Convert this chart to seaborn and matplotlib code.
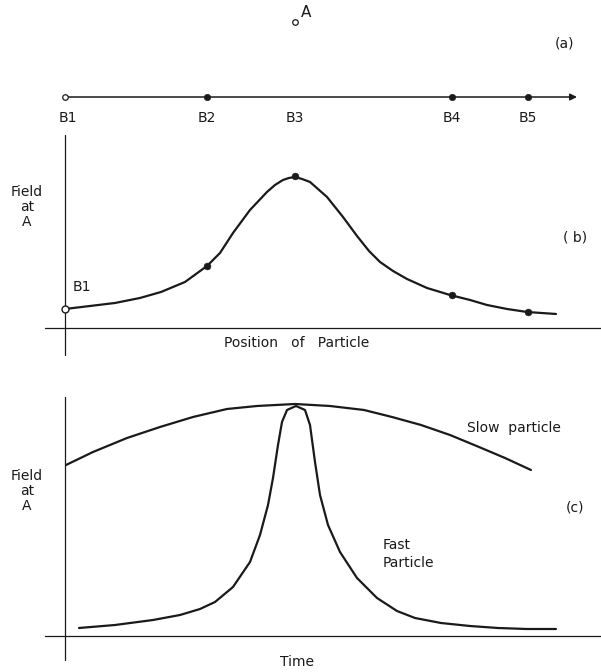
import matplotlib
matplotlib.use("Agg")
import matplotlib.pyplot as plt
import seaborn as sns
import pandas as pd

# ---------------- data ----------------
b_labels = ["B1", "B2", "B3", "B4", "B5"]
b_positions = [0.0, 1.42, 2.30, 3.87, 4.63]
b_field = [0.19, 0.62, 1.52, 0.33, 0.16]
point_a = [2.30, 0.75]          # position of point A above the line
axis_end = 5.12                  # arrow tip of the particle path

pos_x = [0, .25, .50, .75, .96, 1.20, 1.42, 1.55, 1.68, 1.85, 2.02, 2.10, 2.18,
         2.24, 2.30, 2.37, 2.45, 2.62, 2.78, 2.92, 3.04, 3.15, 3.28, 3.42, 3.62,
         3.85, 4.05, 4.22, 4.42, 4.62, 4.91]
pos_field = [.19, .22, .25, .30, .36, .46, .62, .75, .95, 1.18, 1.36, 1.43, 1.48,
             1.50, 1.51, 1.49, 1.46, 1.31, 1.11, .92, .77, .66, .57, .49, .40,
             .33, .28, .23, .19, .16, .14]

slow_t = [0.01, .28, .62, .95, 1.28, 1.62, 1.92, 2.30, 2.65, 2.99, 3.27, 3.56,
          3.85, 4.14, 4.40, 4.66]
slow_field = [1.71, 1.84, 1.98, 2.09, 2.19, 2.27, 2.30, 2.32, 2.30, 2.26, 2.19,
              2.11, 2.01, 1.89, 1.78, 1.66]

fast_t = [.14, .50, .88, 1.15, 1.35, 1.50, 1.68, 1.85, 1.95, 2.03, 2.08, 2.13,
          2.17, 2.22, 2.31, 2.40, 2.45, 2.50, 2.55, 2.63, 2.75, 2.92, 3.12, 3.32,
          3.50, 3.76, 4.05, 4.33, 4.62, 4.91]
fast_field = [.08, .11, .16, .21, .27, .34, .49, .74, 1.01, 1.31, 1.58, 1.91,
              2.14, 2.26, 2.30, 2.26, 2.11, 1.74, 1.41, 1.11, .84, .58, .38, .25,
              .18, .13, .10, .08, .07, .07]

# ---------------- style ----------------
sns.set_theme(style="white")
plt.rcParams["font.family"] = ["DejaVu Sans"]
plt.rcParams["lines.solid_joinstyle"] = "round"
ink = "#1a1a1a"
fs = 10

fig = plt.figure(figsize=(6.01, 6.72), dpi=100)
XL = (-0.65, 5.36)

# ---------------- panel (a) ----------------
ax_a = fig.add_axes([0, 0.7991, 1, 0.2009])
ax_a.set_xlim(*XL); ax_a.set_ylim(-0.38, 0.97); ax_a.axis("off")
ax_a.annotate("", xy=(axis_end, 0), xytext=(b_positions[0], 0),
              arrowprops=dict(arrowstyle="-|>", lw=1.1, color=ink,
                              mutation_scale=10, shrinkA=0, shrinkB=0))
df_a = pd.DataFrame({"x": [b_positions[i] for i in (1, 3, 4)], "y": [0, 0, 0]})
sns.scatterplot(data=df_a, x="x", y="y", ax=ax_a, color=ink, s=22,
                edgecolor=ink, zorder=3, legend=False)
ax_a.plot([b_positions[0]], [0], "o", ms=4, mfc="white", mec=ink, mew=0.9, zorder=4)
ax_a.plot([point_a[0]], [point_a[1]], "o", ms=4, mfc="white", mec=ink, mew=0.9)
ax_a.text(point_a[0] + 0.06, point_a[1] + 0.02, "A", fontsize=11, color=ink,
          ha="left", va="bottom")
for lab, xv in zip(b_labels, b_positions):
    ax_a.text(xv + (0.03 if lab == "B1" else 0), -0.21, lab, fontsize=fs,
              color=ink, ha="center", va="center")
ax_a.text(5.0, 0.54, "(a)", fontsize=fs, color=ink, ha="center", va="center")

# ---------------- panel (b) ----------------
ax_b = fig.add_axes([0, 0.4643, 1, 0.3423])
ax_b.set_xlim(*XL); ax_b.set_ylim(-0.32, 1.98); ax_b.axis("off")
ax_b.axhline(0, xmin=0.075, xmax=1, color=ink, lw=0.9)
ax_b.axvline(0, ymin=0.022, ymax=0.978, color=ink, lw=0.9)
df_b = pd.DataFrame({"x": pos_x, "y": pos_field})
sns.lineplot(data=df_b, x="x", y="y", ax=ax_b, color=ink, lw=1.6, sort=False)
df_bd = pd.DataFrame({"x": b_positions[1:], "y": b_field[1:]})
sns.scatterplot(data=df_bd, x="x", y="y", ax=ax_b, color=ink, s=24,
                edgecolor=ink, zorder=3, legend=False)
ax_b.plot([b_positions[0]], [b_field[0]], "o", ms=5, mfc="white", mec=ink,
          mew=1.0, zorder=4)
ax_b.text(0.08, 0.41, "B1", fontsize=fs, color=ink, ha="left", va="center")
ax_b.text(-0.38, 1.21, "Field\nat\nA", fontsize=fs, color=ink, ha="center",
          va="center", linespacing=1.1)
ax_b.text(5.10, 0.90, "( b)", fontsize=fs, color=ink, ha="center", va="center")
ax_b.text(2.32, -0.15, "Position   of   Particle", fontsize=fs, color=ink,
          ha="center", va="center")
ax_b.set_xlabel(""); ax_b.set_ylabel("")

# ---------------- panel (c) ----------------
ax_c = fig.add_axes([0, 0, 1, 0.4271])
ax_c.set_xlim(*XL); ax_c.set_ylim(-0.36, 2.51); ax_c.axis("off")
ax_c.axhline(0, xmin=0.075, xmax=1, color=ink, lw=0.9)
ax_c.axvline(0, ymin=0.042, ymax=0.958, color=ink, lw=0.9)
df_slow = pd.DataFrame({"t": slow_t, "f": slow_field})
df_fast = pd.DataFrame({"t": fast_t, "f": fast_field})
sns.lineplot(data=df_slow, x="t", y="f", ax=ax_c, color=ink, lw=1.6, sort=False)
sns.lineplot(data=df_fast, x="t", y="f", ax=ax_c, color=ink, lw=1.6, sort=False)
ax_c.text(4.02, 2.08, "Slow  particle", fontsize=fs, color=ink, ha="left",
          va="center")
ax_c.text(3.18, 0.82, "Fast\nParticle", fontsize=fs, color=ink, ha="left",
          va="center", linespacing=1.3)
ax_c.text(-0.38, 1.45, "Field\nat\nA", fontsize=fs, color=ink, ha="center",
          va="center", linespacing=1.1)
ax_c.text(5.10, 1.28, "(c)", fontsize=fs, color=ink, ha="center", va="center")
ax_c.text(2.32, -0.26, "Time", fontsize=fs, color=ink, ha="center", va="center")
ax_c.set_xlabel(""); ax_c.set_ylabel("")

fig.savefig("out.png", dpi=100, facecolor="white")
